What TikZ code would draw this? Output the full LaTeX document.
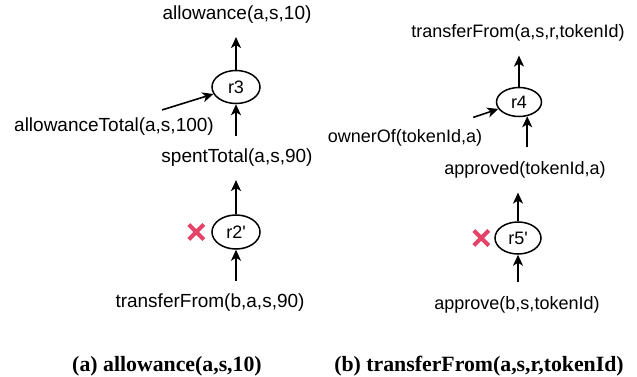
\documentclass[tikz,border=0pt]{standalone}
\usepackage{fontspec}
\setmainfont{Liberation Sans}
\newfontfamily\capfont{Liberation Serif}
\usetikzlibrary{arrows.meta,shapes.geometric,calc}
\definecolor{xred}{RGB}{228,68,104}
\begin{document}
\begin{tikzpicture}[x=1pt,y=-1pt,
  lbl/.style={font=\fontsize{19}{22}\selectfont, inner xsep=0pt, inner ysep=13pt},
  lblb/.style={font=\fontsize{18}{21}\selectfont, inner xsep=0pt, inner ysep=14pt},
  rulenode/.style={draw, ellipse, line width=1.5pt, inner sep=0pt, font=\fontsize{18}{21}\selectfont},
  arr/.style={line width=1.6pt, -{Stealth[length=11pt,width=10pt,inset=3pt]}},
  xmark/.style={line width=4pt, xred},
  capt/.style={font=\capfont\bfseries\fontsize{21.8}{25}\selectfont, inner sep=0pt}
]
\useasboundingbox (0,0) rectangle (637,377);

% (a)
\node[lbl] (a1) at (237,15) {allowance(a,s,10)};
\node[rulenode, minimum width=48pt, minimum height=33pt] (r3) at (236,87) {r3};
\node[lbl] (at) at (114,127) {allowanceTotal(a,s,100)};
\node[lbl] (st) at (237,158) {spentTotal(a,s,90)};
\node[rulenode, minimum width=48pt, minimum height=34pt] (r2) at (236,232) {r2\textquotesingle};
\node[lbl] (tf) at (210,303) {transferFrom(b,a,s,90)};
\node[capt] (capa) at (167,366) {(a) allowance(a,s,10)};

\draw[arr] (r3) -- (r3 |- a1.south);
\draw[arr] (st.north -| r3) -- (r3);
\draw[arr] ($(at.north east)+(-52,5)$) -- (r3);
\draw[arr] (r2) -- (r2 |- st.south);
\draw[arr] (tf.north -| r2) -- (r2);
\coordinate (xa) at ($(r2.west)+(-15,0)$);
\draw[xmark] ($(xa)+(-7.5,-7.5)$) -- ($(xa)+(7.5,7.5)$) ($(xa)+(-7.5,7.5)$) -- ($(xa)+(7.5,-7.5)$);

% (b)
\node[lblb] (tr) at (518,33) {transferFrom(a,s,r,tokenId)};
\node[rulenode, minimum width=45pt, minimum height=29pt] (r4) at (519,102) {r4};
\node[lblb] (own) at (405,138) {ownerOf(tokenId,a)};
\node[lblb] (apd) at (525,170) {approved(tokenId,a)};
\node[rulenode, minimum width=46pt, minimum height=32pt] (r5) at (518,238) {r5\textquotesingle};
\node[lblb] (ap) at (517,305) {approve(b,s,tokenId)};
\node[capt] (capb) at (479,366) {(b) transferFrom(a,s,r,tokenId)};

\draw[arr] (r4) -- (r4 |- tr.south);
\draw[arr] ($(own.north east)+(-9,2)$) -- (r4);
\draw[arr] (apd.north -| r4.-60) -- (r4.-60);
\draw[arr] (r5) -- (r5 |- apd.south);
\draw[arr] (ap.north -| r5) -- (r5);
\coordinate (xb) at ($(r5.west)+(-13,0)$);
\draw[xmark] ($(xb)+(-7.5,-7.5)$) -- ($(xb)+(7.5,7.5)$) ($(xb)+(-7.5,7.5)$) -- ($(xb)+(7.5,-7.5)$);
\end{tikzpicture}
\end{document}
